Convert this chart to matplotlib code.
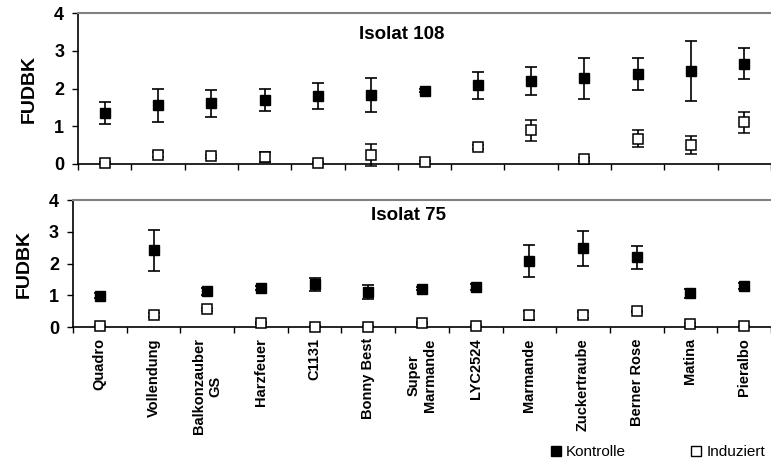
import matplotlib
matplotlib.use("Agg")
import matplotlib.pyplot as plt
from matplotlib.lines import Line2D
import numpy as np

plt.rcParams["font.family"] = ["Liberation Sans", "DejaVu Sans"]

sorten = ["Quadro", "Vollendung", "Balkonzauber\nGS", "Harzfeuer", "C1131",
          "Bonny Best", "Super\nMarmande", "LYC2524", "Marmande", "Zuckertraube",
          "Berner Rose", "Matina", "Pieralbo"]

# Isolat 108
k108 = [1.35, 1.55, 1.61, 1.70, 1.80, 1.82, 1.94, 2.08, 2.21, 2.27, 2.39, 2.46, 2.66]
k108_err = [0.29, 0.45, 0.36, 0.29, 0.35, 0.45, 0.04, 0.37, 0.37, 0.54, 0.42, 0.79, 0.41]
i108 = [0.02, 0.25, 0.20, 0.19, 0.02, 0.25, 0.04, 0.45, 0.89, 0.13, 0.67, 0.50, 1.10]
i108_err = [0.03, 0.07, 0.03, 0.13, 0.02, 0.29, 0.03, 0.04, 0.28, 0.04, 0.23, 0.23, 0.28]

# Isolat 75
k75 = [0.99, 2.42, 1.12, 1.24, 1.34, 1.10, 1.21, 1.26, 2.08, 2.48, 2.19, 1.06, 1.30]
k75_err = [0.07, 0.65, 0.12, 0.06, 0.20, 0.23, 0.05, 0.08, 0.50, 0.55, 0.37, 0.15, 0.10]
i75 = [0.03, 0.38, 0.56, 0.13, 0.01, 0.01, 0.14, 0.03, 0.37, 0.37, 0.49, 0.08, 0.02]
i75_err = [0.02, 0.05, 0.05, 0.04, 0.01, 0.01, 0.03, 0.02, 0.15, 0.10, 0.03, 0.05, 0.02]

x = np.arange(len(sorten)) + 0.5

fig = plt.figure(figsize=(7.71, 4.63), dpi=100)
ax1 = fig.add_axes([0.1012, 0.6458, 0.8988, 0.3261])
ax2 = fig.add_axes([0.0947, 0.2937, 0.9053, 0.2743])


def unclip(cont):
    for art in cont.get_children():
        art.set_clip_on(False)


def panel(ax, k, ke, i, ie, title, tx, ty):
    c1 = ax.errorbar(x, k, yerr=ke, fmt="s", color="black", mfc="black", mec="black",
                     ms=7, capsize=4, elinewidth=1.2, capthick=1.2, zorder=3)
    c2 = ax.errorbar(x, i, yerr=ie, fmt="s", color="black", mfc="white", mec="black",
                     ms=7, mew=1.1, capsize=4, elinewidth=1.2, capthick=1.2, zorder=4)
    unclip(c1)
    unclip(c2)
    ax.set_xlim(0, len(sorten))
    ax.set_ylim(0, 4)
    ax.set_yticks([0, 1, 2, 3, 4])
    ax.set_xticks(np.arange(len(sorten) + 1))
    ax.set_xticklabels([])
    ax.tick_params(axis="both", direction="out", length=4, width=1, labelsize=13)
    ax.tick_params(axis="y", pad=6)
    for lab in ax.get_yticklabels():
        lab.set_fontweight("bold")
    ax.spines["right"].set_visible(False)
    ax.spines["top"].set_color("#808080")
    ax.spines["top"].set_linewidth(1.5)
    ax.spines["left"].set_linewidth(1.2)
    ax.spines["bottom"].set_linewidth(1.2)
    ax.set_ylabel("FUDBK", fontsize=14, fontweight="bold", labelpad=12)
    ax.text(tx, ty, title, transform=ax.transAxes, ha="center", va="center",
            fontsize=13.5, fontweight="bold")


panel(ax1, k108, k108_err, i108, i108_err, "Isolat 108", 0.467, 0.86)
panel(ax2, k75, k75_err, i75, i75_err, "Isolat 75", 0.48, 0.88)

ax2.set_xticks(x, minor=True)
ax2.set_xticklabels(sorten, minor=True, rotation=90, fontsize=10.5,
                    fontweight="bold", va="top", ha="center", multialignment="center")
ax2.tick_params(axis="x", which="minor", length=0, pad=8)

handles = [Line2D([], [], marker="s", ls="none", color="black", mfc="black", ms=7),
           Line2D([], [], marker="s", ls="none", color="black", mfc="white", ms=7)]
fig.legend(handles, ["Kontrolle", "Induziert"], loc="center",
           bbox_to_anchor=(0.853, 0.024), ncol=2, frameon=False, fontsize=11,
           handlelength=0.7, handletextpad=0.3, columnspacing=4.3)

fig.savefig("out.png", dpi=100)
